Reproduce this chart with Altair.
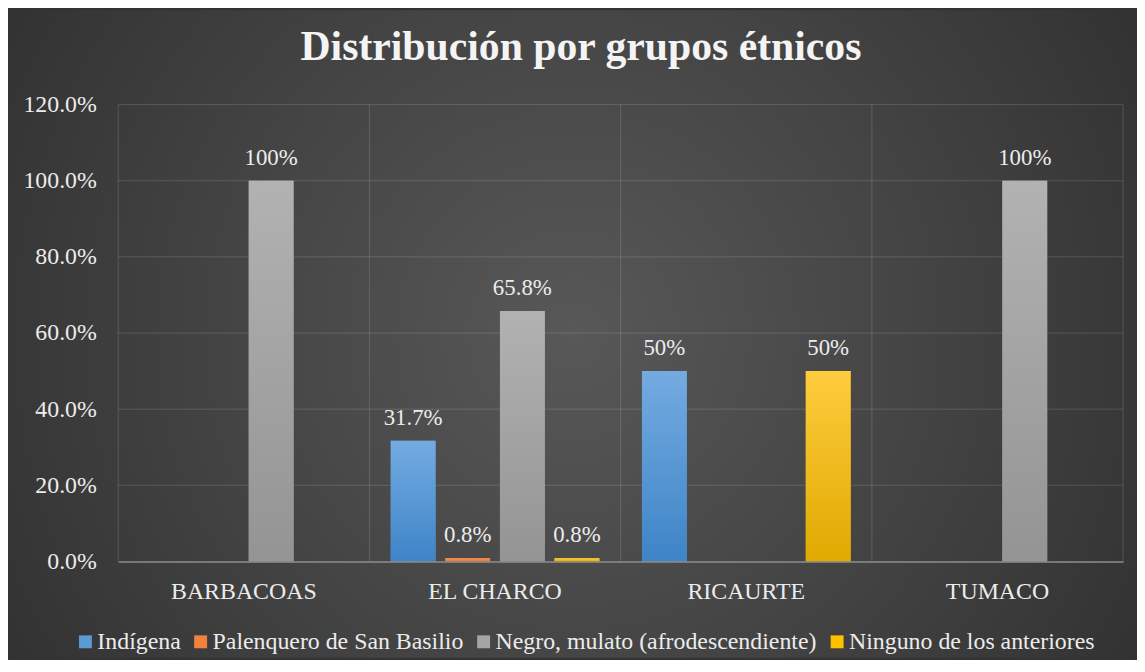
import altair as alt
import pandas as pd

categories = ["BARBACOAS", "EL CHARCO", "RICAURTE", "TUMACO"]
series = ["Indígena", "Palenquero de San Basilio",
          "Negro, mulato (afrodescendiente)", "Ninguno de los anteriores"]
indigena = [0.0, 0.317, 0.50, 0.0]
palenquero = [0.0, 0.008, 0.0, 0.0]
negro = [1.0, 0.658, 0.0, 1.0]
ninguno = [0.0, 0.008, 0.50, 0.0]
y_ticks = [0.0, 0.2, 0.4, 0.6, 0.8, 1.0, 1.2]

colors = ["#5b9bd5", "#f0823e", "#a5a5a5", "#ffc000"]
grad_top = ["#74abe1", "#f7934f", "#b2b2b2", "#ffcc3e"]
grad_bot = ["#3e84c7", "#e8772f", "#949494", "#e0aa00"]

values = [indigena, palenquero, negro, ninguno]
rows = []
for si, s in enumerate(series):
    for ci, c in enumerate(categories):
        rows.append({"cat": c, "series": s, "value": values[si][ci]})
df = pd.DataFrame(rows)

W, H = 1012, 460
PL, PT, PR, PB = 111, 95, 14, 97
FONT = "'Liberation Serif', 'Times New Roman', Times, serif"
TXT = "#ececec"

x_axis = alt.Axis(title=None, labelAngle=0, ticks=False, grid=False,
                  domain=True, domainColor="#8e8e8e", domainWidth=1.5,
                  labelFont=FONT, labelFontSize=24, labelColor=TXT,
                  labelPadding=18, zindex=1)
y_axis = alt.Axis(title=None, values=y_ticks, format=".1%", ticks=False,
                  domain=False, grid=False, labelFont=FONT, labelFontSize=24,
                  labelColor=TXT, labelPadding=22, zindex=1)
x_scale = alt.Scale(domain=categories, paddingInner=0, paddingOuter=0)
y_scale = alt.Scale(domain=[0, 1.2], nice=False)

x_enc = alt.X("cat:N", sort=categories, scale=x_scale, axis=x_axis)
xo_enc = alt.XOffset("series:N", sort=series,
                     scale=alt.Scale(domain=series, paddingInner=0.18, paddingOuter=0.39))
y_enc = alt.Y("value:Q", scale=y_scale, axis=y_axis)

bg = alt.Chart(pd.DataFrame({"a": [0]})).mark_rect(
    fill={"gradient": "radial", "x1": 0.5, "y1": 0.5, "r1": 0,
          "x2": 0.5, "y2": 0.5, "r2": 0.72,
          "stops": [{"offset": 0, "color": "#585858"},
                    {"offset": 1, "color": "#292929"}]}
).encode(x=alt.value(-PL), x2=alt.value(W + PR), y=alt.value(-PT), y2=alt.value(H + PB))

hgrid = alt.Chart(pd.DataFrame({"value": y_ticks[1:]})).mark_rule(
    color="#ffffff", opacity=0.15, strokeWidth=1
).encode(y=y_enc)

vgrid = alt.Chart(pd.DataFrame({"cat": categories})).mark_rule(
    color="#ffffff", opacity=0.15, strokeWidth=1
).encode(x=alt.X("cat:N", sort=categories, bandPosition=0, scale=x_scale, axis=x_axis))

redge = alt.Chart(pd.DataFrame({"a": [0]})).mark_rule(
    color="#ffffff", opacity=0.15, strokeWidth=1
).encode(x=alt.value(W), y=alt.value(0), y2=alt.value(H))

bars = alt.Chart(df).mark_bar().encode(
    x=x_enc, xOffset=xo_enc, y=y_enc,
    color=alt.Color("series:N", sort=series,
                    scale=alt.Scale(domain=series, range=colors),
                    legend=alt.Legend(title=None, orient="none", direction="horizontal",
                                      legendX=-45, legendY=529, symbolType="square",
                                      symbolSize=169, symbolStrokeWidth=0,
                                      labelFont=FONT, labelFontSize=24, labelColor=TXT,
                                      labelOffset=0, columnPadding=8, padding=0,
                                      labelLimit=0))
)

grad_layers = []
for i, s in enumerate(series):
    g = alt.Chart(df).transform_filter(alt.datum.series == s).mark_bar(
        fill={"gradient": "linear", "x1": 0, "y1": 0, "x2": 0, "y2": 1,
              "stops": [{"offset": 0, "color": grad_top[i]},
                        {"offset": 1, "color": grad_bot[i]}]}
    ).encode(x=x_enc, xOffset=xo_enc, y=y_enc)
    grad_layers.append(g)

labels = alt.Chart(df).transform_filter(alt.datum.value > 0).mark_text(
    dy=-16, baseline="alphabetic", font=FONT, fontSize=23, color=TXT
).encode(x=x_enc, xOffset=xo_enc, y=y_enc,
         text=alt.Text("value:Q", format=".1~%"))

chart = alt.layer(bg, hgrid, vgrid, redge, bars, *grad_layers, labels).properties(
    width=W, height=H,
    autosize=alt.AutoSizeParams(type="none"),
    padding={"left": PL, "top": PT, "right": PR, "bottom": PB},
    title=alt.Title("Distribución por grupos étnicos", font=FONT, fontSize=42,
                    fontWeight="bold", color="#f4f4f4", anchor="middle",
                    frame="group", offset=0, dy=92, dx=-40, baseline="alphabetic"),
).configure(background="#333333").configure_view(stroke=None)

chart.save("out.html", embed_options={"renderer": "svg", "actions": False})
